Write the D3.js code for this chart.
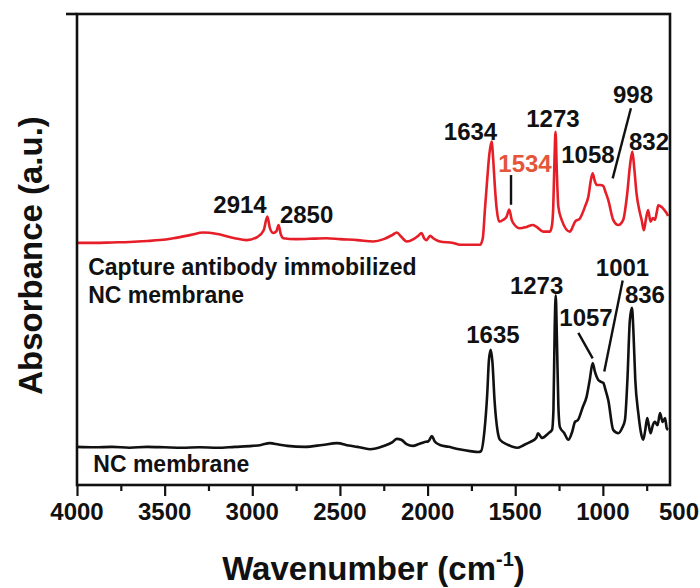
<!DOCTYPE html>
<html><head><meta charset="utf-8">
<script src="https://cdn.jsdelivr.net/npm/d3@7"></script>
<style>html,body{margin:0;padding:0;background:#fff;}svg{display:block;font-family:"Liberation Sans",Arial,sans-serif;}</style>
</head><body>
<svg id="c" width="700" height="588"></svg>
<script>
// ---- data (wavenumber cm-1, absorbance a.u.) ----
const ncWave = [4000,3900,3800,3700,3600,3500,3400,3300,3200,3100,3000,2950,2900,2850,2800,2700,2600,2517,2450,2400,2329,2250,2200,2175,2150,2120,2083,2050,2020,1995,1975,1960,1929,1880,1820,1758,1710,1695,1675,1660,1650,1640,1630,1618,1600,1587,1540,1490,1450,1416,1380,1370,1347,1310,1290,1282,1275,1269,1262,1254,1245,1220,1197,1175,1159,1142,1114,1093,1075,1058,1045,1026,1010,998,985,969,941,912,890,874,860,846,834,826,815,798,780,770,758,747,738,728,715,703,688,674,659,645,636,628];
const ncAbs  = [0.081,0.080,0.081,0.079,0.081,0.080,0.079,0.080,0.079,0.081,0.083,0.085,0.089,0.086,0.083,0.081,0.085,0.089,0.084,0.081,0.076,0.083,0.091,0.098,0.096,0.087,0.083,0.087,0.091,0.093,0.104,0.093,0.085,0.081,0.076,0.072,0.070,0.072,0.117,0.191,0.265,0.287,0.261,0.180,0.113,0.096,0.085,0.079,0.085,0.091,0.100,0.110,0.100,0.110,0.117,0.159,0.329,0.403,0.308,0.170,0.123,0.110,0.096,0.113,0.134,0.138,0.166,0.187,0.223,0.259,0.240,0.223,0.219,0.217,0.202,0.180,0.117,0.110,0.121,0.138,0.223,0.350,0.376,0.329,0.223,0.153,0.106,0.096,0.117,0.142,0.127,0.110,0.127,0.134,0.127,0.153,0.134,0.142,0.121,0.117];

const abWave = [4000,3900,3800,3700,3600,3527,3450,3350,3281,3200,3100,3032,2970,2935,2914,2900,2880,2862,2850,2838,2823,2750,2650,2576,2500,2400,2310,2250,2200,2176,2150,2119,2080,2053,2034,2020,2006,1985,1968,1929,1854,1815,1720,1701,1685,1673,1660,1648,1635,1625,1616,1605,1591,1568,1549,1534,1520,1511,1473,1435,1400,1378,1340,1302,1290,1283,1276,1270,1263,1254,1235,1188,1170,1159,1131,1102,1083,1068,1058,1048,1035,1015,998,985,969,941,912,884,861,845,832,820,808,790,779,766,755,742,728,715,703,692,684,665,650,636,628];
const abAbs  = [0.514,0.514,0.515,0.516,0.518,0.520,0.524,0.531,0.536,0.533,0.524,0.520,0.527,0.541,0.570,0.546,0.535,0.539,0.552,0.533,0.524,0.522,0.523,0.524,0.522,0.520,0.517,0.522,0.531,0.536,0.527,0.517,0.522,0.529,0.535,0.524,0.520,0.529,0.524,0.517,0.514,0.510,0.510,0.510,0.524,0.584,0.648,0.701,0.729,0.688,0.633,0.584,0.559,0.563,0.570,0.585,0.563,0.556,0.545,0.548,0.552,0.548,0.538,0.538,0.552,0.591,0.690,0.750,0.669,0.591,0.563,0.538,0.550,0.559,0.566,0.591,0.612,0.648,0.662,0.648,0.637,0.637,0.635,0.622,0.605,0.563,0.552,0.563,0.619,0.679,0.708,0.669,0.619,0.580,0.563,0.541,0.563,0.584,0.559,0.567,0.563,0.580,0.594,0.590,0.584,0.577,0.571];

const majorTicks = [4000,3500,3000,2500,2000,1500,1000];
const minorTicks = [3750,3250,2750,2250,1750,1250,750];
const tickLabels = ["4000","3500","3000","2500","2000","1500","1000","500"];
const tickLabelValues = [4000,3500,3000,2500,2000,1500,1000,500];

// peak annotations: text, anchor wavenumber, anchor absorbance, colour
const abPeakText = ["2914","2850","1634","1534","1273","1058","998","832"];
const abPeakW    = [3070,2690,1755,1444,1285,1085,828,737];
const abPeakA    = [0.577,0.556,0.732,0.665,0.761,0.683,0.810,0.711];
const abPeakRed  = [false,false,false,true,false,false,false,false];
const ncPeakText = ["1635","1273","1057","1001","836"];
const ncPeakW    = [1627,1378,1096,888,760];
const ncPeakA    = [0.301,0.406,0.338,0.444,0.386];
// leader lines [w1,a1,w2,a2]
const leaders = [[1524,0.658,1524,0.595],[840,0.800,944,0.651],[1140,0.323,1058,0.269],[887,0.434,992,0.241]];

const seriesLabel = ["Capture antibody immobilized","NC membrane","NC membrane"];
const seriesLabelW = [3936,3936,3907];
const seriesLabelA = [0.446,0.386,0.028];

// ---- drawing ----
const svg = d3.select("#c");
const L=77,R=670,T=14,B=485;
const x = d3.scaleLinear().domain([4000,617]).range([L,R]);
const y = d3.scaleLinear().domain([0,1]).range([B,T]);
const RED = "#e61e28";

const line = d3.line().x(d=>x(d[0])).y(d=>y(d[1])).curve(d3.curveMonotoneX);
svg.append("path").datum(d3.zip(ncWave,ncAbs)).attr("d",line)
  .attr("fill","none").attr("stroke","#111").attr("stroke-width",2.6).attr("stroke-linejoin","round");
svg.append("path").datum(d3.zip(abWave,abAbs)).attr("d",line)
  .attr("fill","none").attr("stroke",RED).attr("stroke-width",2.6).attr("stroke-linejoin","round");

// frame
svg.append("rect").attr("x",L).attr("y",T).attr("width",R-L).attr("height",B-T)
  .attr("fill","none").attr("stroke","#111").attr("stroke-width",2.6);
// y-axis stubs
svg.append("line").attr("x1",L-11).attr("x2",L).attr("y1",T).attr("y2",T).attr("stroke","#111").attr("stroke-width",2.6);

// x axis ticks
const gx = svg.append("g").attr("transform",`translate(0,${B})`);
gx.call(d3.axisBottom(x).tickValues(majorTicks).tickSize(11).tickFormat(""));
gx.call(g=>g.select(".domain").remove());
const gm = svg.append("g").attr("transform",`translate(0,${B})`);
gm.call(d3.axisBottom(x).tickValues(minorTicks).tickSize(6).tickFormat(""));
gm.call(g=>g.select(".domain").remove());
svg.selectAll(".tick line").attr("stroke","#111").attr("stroke-width",2.2);

svg.append("g").selectAll("text").data(tickLabels).join("text")
  .attr("x",(d,i)=>Math.min(x(tickLabelValues[i]),679)).attr("y",520)
  .attr("text-anchor","middle").attr("font-size",24).attr("font-weight","bold").attr("fill","#111")
  .text(d=>d);

// axis titles
const xt = svg.append("text").attr("x",(L+R)/2).attr("y",580).attr("text-anchor","middle")
  .attr("font-size",33).attr("font-weight","bold").attr("fill","#111");
xt.append("tspan").text("Wavenumber (cm");
xt.append("tspan").attr("font-size",20).attr("dy",-14).text("-1");
xt.append("tspan").attr("dy",14).text(")");

svg.append("text").attr("transform",`translate(42,${(T+B)/2+6}) rotate(-90)`).attr("text-anchor","middle")
  .attr("font-size",33).attr("font-weight","bold").attr("fill","#111").text("Absorbance (a.u.)");

// annotations
const ann = svg.append("g").attr("font-size",24).attr("font-weight","bold").attr("text-anchor","middle");
ann.selectAll("text.ab").data(abPeakText).join("text").attr("class","ab")
  .attr("x",(d,i)=>x(abPeakW[i])).attr("y",(d,i)=>y(abPeakA[i]))
  .attr("fill",(d,i)=>abPeakRed[i]?"#e5553a":"#111").text(d=>d);
ann.selectAll("text.nc").data(ncPeakText).join("text").attr("class","nc")
  .attr("x",(d,i)=>x(ncPeakW[i])).attr("y",(d,i)=>y(ncPeakA[i]))
  .attr("fill","#111").text(d=>d);
svg.append("g").selectAll("line").data(leaders).join("line")
  .attr("x1",d=>x(d[0])).attr("y1",d=>y(d[1])).attr("x2",d=>x(d[2])).attr("y2",d=>y(d[3]))
  .attr("stroke","#111").attr("stroke-width",2.4);

svg.append("g").selectAll("text").data(seriesLabel).join("text")
  .attr("x",(d,i)=>x(seriesLabelW[i])).attr("y",(d,i)=>y(seriesLabelA[i]))
  .attr("font-size",23).attr("font-weight","bold").attr("fill","#111").text(d=>d);
</script>
</body></html>
